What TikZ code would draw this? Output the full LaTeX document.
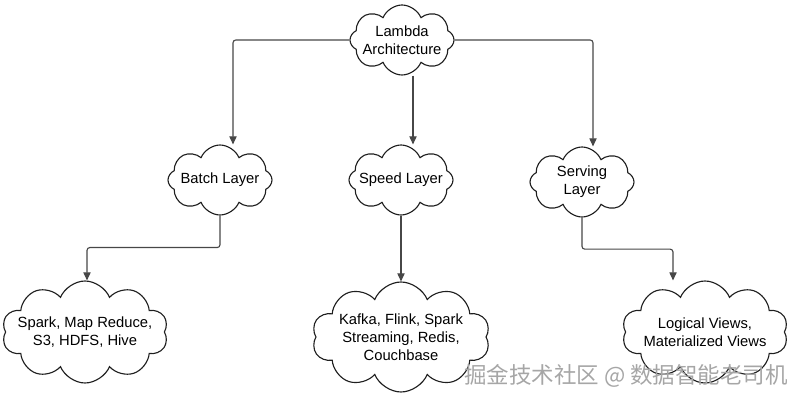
\documentclass[tikz,border=0pt]{standalone}
\usepackage{fontspec}
\setmainfont{Liberation Sans}
\newfontfamily\cjkfont{Noto Sans CJK SC}
\usepackage{xcolor}
\usetikzlibrary{arrows.meta,shapes.symbols}

\begin{document}
\begin{tikzpicture}[
  cloudbox/.style={draw=black!88, cloud, cloud puffs=8, cloud puff arc=135,
              cloud ignores aspect, align=center, inner xsep=-0.4cm,
              inner ysep=-0.1cm, font=\fontsize{10.5}{12.8}\selectfont,
              line width=0.8pt},
  topbox/.style={cloudbox, minimum width=2.6cm, minimum height=1.75cm},
  leafbox/.style={cloudbox, cloud puffs=10, minimum width=4.15cm,
              minimum height=2.55cm},
  wmark/.style={text=black!35, font=\cjkfont\fontsize{16}{18}\selectfont},
  arr/.style={-{Triangle[length=2mm,width=1.8mm]}, draw=black!72,
              line width=0.8pt, rounded corners=2pt}
]
\useasboundingbox (0,0) rectangle (19.775,-10.025);
\node[topbox] (lambda) at (10.05,-1.0) {Lambda\\Architecture};
\node[topbox] (batch) at (5.5,-4.5) {Batch Layer};
\node[topbox] (speed) at (10.025,-4.5) {Speed Layer};
\node[topbox] (serving) at (14.55,-4.55) {Serving\\Layer};
\node[leafbox] (batchtools) at (2.125,-8.3) {Spark, Map Reduce,\\S3, HDFS, Hive};
\node[leafbox, minimum width=4.45cm, minimum height=2.75cm] (speedtools)
  at (10.025,-8.425) {Kafka, Flink, Spark\\Streaming, Redis,\\Couchbase};
\node[leafbox] (views) at (17.625,-8.3) {Logical Views,\\Materialized Views};
\node[wmark] (wm) at (15.65,-9.4) {掘金技术社区 @ 数据智能老司机};

\draw[arr] (lambda.west) -| ([xshift=0.325cm]batch.north);
\draw[arr] (lambda.east) -| ([xshift=0.275cm]serving.north);
\draw[arr] ([xshift=0.275cm]lambda.south) -- ([xshift=0.275cm]lambda.south |- speed.north);
\draw[arr] (batch.south) -- ++(0,-0.8) -| ([xshift=0.05cm]batchtools.north);
\draw[arr] (speed.south) -- (speed.south |- speedtools.north);
\draw[arr] (serving.south) -- ++(0,-0.79) -| ([xshift=-0.8cm]views.north);
\end{tikzpicture}
\end{document}
